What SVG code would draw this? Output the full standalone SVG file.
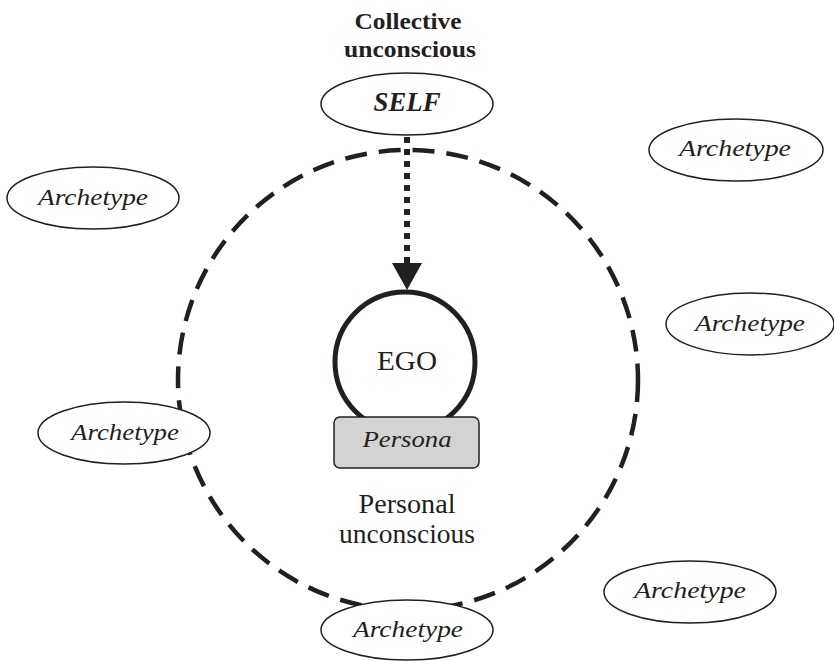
<svg xmlns="http://www.w3.org/2000/svg" width="834" height="661" viewBox="0 0 834 661">
<style>
text{font-family:"Liberation Serif","Times New Roman",serif;fill:#231f20;text-anchor:middle}
.arch{fill:#fff;stroke:#231f20;stroke-width:1.5}
.it{font-style:italic;font-size:24px}
</style>
<rect width="834" height="661" fill="#fff"/>
<g id="personal-unconscious">
<circle cx="408" cy="380" r="230" fill="none" stroke="#231f20" stroke-width="4.5" stroke-dasharray="22 12"/>
<text x="407" y="513" font-size="27" textLength="97" lengthAdjust="spacingAndGlyphs">Personal</text>
<text x="407" y="543" font-size="27" textLength="136" lengthAdjust="spacingAndGlyphs">unconscious</text>
</g>
<g id="collective-label">
<text x="408" y="29" font-size="24" font-weight="bold" textLength="107" lengthAdjust="spacingAndGlyphs">Collective</text>
<text x="410" y="57" font-size="24" font-weight="bold" textLength="132" lengthAdjust="spacingAndGlyphs">unconscious</text>
</g>
<g id="connectors">
<line x1="407" y1="137" x2="407" y2="263" stroke="#231f20" stroke-width="6" stroke-dasharray="6 6"/>
<path d="M392,263 L422,263 L407,290 Z" fill="#231f20"/>
</g>
<g id="self">
<ellipse class="arch" cx="407" cy="104" rx="86" ry="31"/>
<text x="407" y="111" font-size="27" font-style="italic" font-weight="bold" textLength="67" lengthAdjust="spacingAndGlyphs">SELF</text>
</g>
<g id="ego">
<circle cx="405" cy="362" r="70" fill="#fff" stroke="#231f20" stroke-width="5"/>
<text x="407" y="370" font-size="27" textLength="60" lengthAdjust="spacingAndGlyphs">EGO</text>
</g>
<g id="persona">
<rect x="334" y="417" width="145" height="51" rx="6" fill="#d3d3d3" stroke="#231f20" stroke-width="1.5"/>
<text class="it" x="407" y="447" textLength="89" lengthAdjust="spacingAndGlyphs">Persona</text>
</g>
<g id="archetype-1">
<ellipse class="arch" cx="93" cy="198" rx="86" ry="31"/>
<text class="it" x="93" y="205" textLength="110" lengthAdjust="spacingAndGlyphs">Archetype</text>
</g>
<g id="archetype-2">
<ellipse class="arch" cx="736" cy="150" rx="87" ry="31"/>
<text class="it" x="735" y="156" textLength="112" lengthAdjust="spacingAndGlyphs">Archetype</text>
</g>
<g id="archetype-3">
<ellipse class="arch" cx="750" cy="324" rx="84" ry="31"/>
<text class="it" x="750" y="331" textLength="110" lengthAdjust="spacingAndGlyphs">Archetype</text>
</g>
<g id="archetype-4">
<ellipse class="arch" cx="124" cy="433" rx="86" ry="31"/>
<text class="it" x="125" y="440" textLength="108" lengthAdjust="spacingAndGlyphs">Archetype</text>
</g>
<g id="archetype-5">
<ellipse class="arch" cx="690" cy="592" rx="86" ry="31"/>
<text class="it" x="690" y="598" textLength="112" lengthAdjust="spacingAndGlyphs">Archetype</text>
</g>
<g id="archetype-6">
<ellipse class="arch" cx="407" cy="630" rx="86" ry="30"/>
<text class="it" x="408" y="637" textLength="110" lengthAdjust="spacingAndGlyphs">Archetype</text>
</g>
</svg>
